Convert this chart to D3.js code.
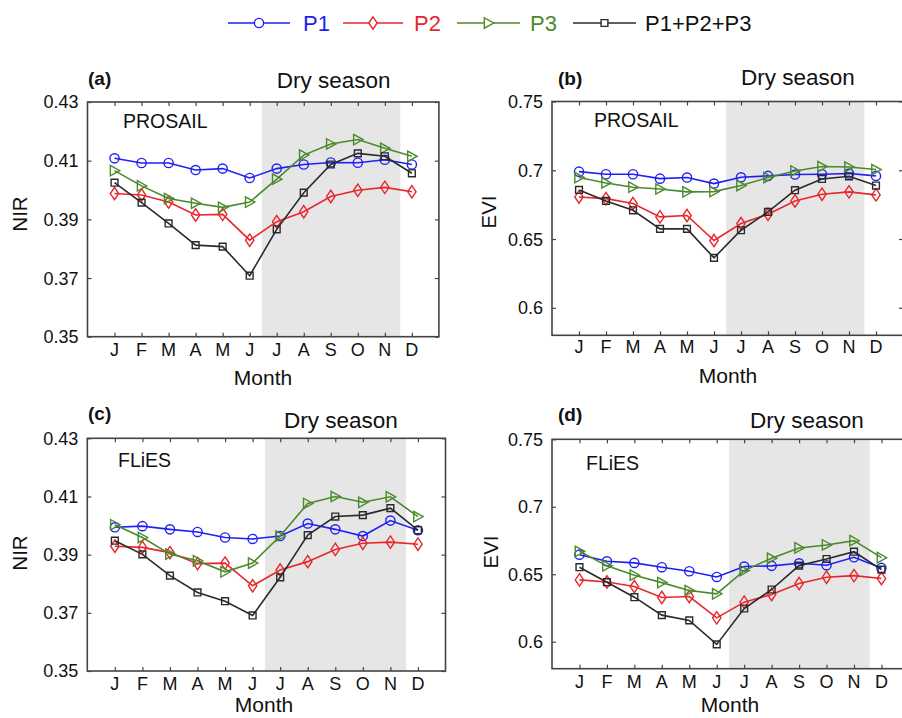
<!DOCTYPE html>
<html>
<head>
<meta charset="utf-8">
<script src="https://cdn.jsdelivr.net/npm/d3@7/dist/d3.min.js"></script>
<style>
  html, body { margin: 0; padding: 0; background: #fff; }
  svg { display: block; font-family: "Liberation Sans", Arial, Helvetica, sans-serif; }
</style>
</head>
<body>
<svg id="chart" width="902" height="718"></svg>
<script>
// ---------------- DATA ----------------
const months = ["J","F","M","A","M","J","J","A","S","O","N","D"];
const seriesNames = ["P1", "P2", "P3", "P1+P2+P3"];
const nirTicks = [0.35, 0.37, 0.39, 0.41, 0.43];
const eviTicks = [0.6, 0.65, 0.7, 0.75];

// (a) PROSAIL NIR
const prosailNIR_P1  = [0.4108,0.4092,0.4092,0.4068,0.4073,0.4041,0.4073,0.4087,0.4094,0.4093,0.4103,0.4087];
const prosailNIR_P2  = [0.3988,0.3983,0.3959,0.3915,0.3917,0.3829,0.3892,0.3926,0.3978,0.3999,0.4009,0.3994];
const prosailNIR_P3  = [0.4066,0.4014,0.3971,0.3955,0.3941,0.3959,0.4037,0.4119,0.4157,0.4172,0.4142,0.4115];
const prosailNIR_Sum = [0.4025,0.3957,0.3886,0.3812,0.3807,0.3708,0.3866,0.3991,0.4087,0.4125,0.4115,0.4057];

// (b) PROSAIL EVI
const prosailEVI_P1  = [0.6990,0.6971,0.6971,0.6939,0.6947,0.6903,0.6949,0.6959,0.6969,0.6971,0.6976,0.6959];
const prosailEVI_P2  = [0.6806,0.6794,0.6758,0.6661,0.6671,0.6489,0.6613,0.6680,0.6777,0.6826,0.6843,0.6821];
const prosailEVI_P3  = [0.6947,0.6908,0.6877,0.6864,0.6843,0.6845,0.6889,0.6947,0.6995,0.7027,0.7024,0.7005];
const prosailEVI_Sum = [0.6857,0.6777,0.6709,0.6574,0.6574,0.6363,0.6564,0.6697,0.6855,0.6937,0.6956,0.6889];

// (c) FLiES NIR
const fliesNIR_P1  = [0.3994,0.3998,0.3987,0.3978,0.3959,0.3954,0.3964,0.4007,0.3987,0.3964,0.4017,0.3984];
const fliesNIR_P2  = [0.3929,0.3925,0.3907,0.3869,0.3871,0.3793,0.3847,0.3876,0.3918,0.3939,0.3943,0.3936];
const fliesNIR_P3  = [0.4003,0.3959,0.3902,0.3879,0.3841,0.3871,0.3964,0.4076,0.4100,0.4080,0.4099,0.4031];
const fliesNIR_Sum = [0.3948,0.3901,0.3828,0.3770,0.3740,0.3691,0.3822,0.3967,0.4031,0.4036,0.4060,0.3984];

// (d) FLiES EVI
const fliesEVI_P1  = [0.6645,0.6596,0.6584,0.6552,0.6522,0.6480,0.6557,0.6562,0.6581,0.6567,0.6626,0.6547];
const fliesEVI_P2  = [0.6458,0.6443,0.6409,0.6328,0.6335,0.6177,0.6293,0.6350,0.6431,0.6478,0.6490,0.6468];
const fliesEVI_P3  = [0.6670,0.6562,0.6493,0.6438,0.6379,0.6355,0.6527,0.6618,0.6695,0.6717,0.6749,0.6623];
const fliesEVI_Sum = [0.6552,0.6441,0.6330,0.6197,0.6158,0.5980,0.6246,0.6387,0.6564,0.6613,0.6667,0.6534];

const drySeason = [6.45, 11.57];   // in month-index units (1 = Jan)

// ---------------- STYLE ----------------
const colors  = ["#1f1ff5", "#e8262b", "#4b8a2c", "#2a2a2a"];
const markers = ["circle", "diamond", "triangle", "square"];

const panels = [
  { tag: "(a)", src: "PROSAIL", ylab: "NIR", ticks: nirTicks, dom: [0.35, 0.43], fmt: d3.format(".2f"),
    series: [prosailNIR_P1, prosailNIR_P2, prosailNIR_P3, prosailNIR_Sum],
    box: [87.5, 102, 438.9, 336.7],
    tagPos: [88, 85], dryPos: [276.7, 87.5], srcPos: [123, 128], ylabPos: [27, 214], monthY: 356, xlabPos: [263, 385] },
  { tag: "(b)", src: "PROSAIL", ylab: "EVI", ticks: eviTicks, dom: [0.58, 0.75], fmt: d => (d === 0.6 || d === 0.7) ? d.toFixed(1) : d.toFixed(2),
    series: [prosailEVI_P1, prosailEVI_P2, prosailEVI_P3, prosailEVI_Sum],
    box: [552, 101.5, 903, 335.3],
    tagPos: [558, 85], dryPos: [741, 85], srcPos: [594, 126.7], ylabPos: [496, 212], monthY: 353, xlabPos: [728, 383] },
  { tag: "(c)", src: "FLiES", ylab: "NIR", ticks: nirTicks, dom: [0.35, 0.43], fmt: d3.format(".2f"),
    series: [fliesNIR_P1, fliesNIR_P2, fliesNIR_P3, fliesNIR_Sum],
    box: [87.3, 438.3, 445.5, 671],
    tagPos: [88, 420], dryPos: [284, 428], srcPos: [118, 467], ylabPos: [27, 553], monthY: 690, xlabPos: [264, 712] },
  { tag: "(d)", src: "FLiES", ylab: "EVI", ticks: eviTicks, dom: [0.58, 0.75], fmt: d => (d === 0.6 || d === 0.7) ? d.toFixed(1) : d.toFixed(2),
    series: [fliesEVI_P1, fliesEVI_P2, fliesEVI_P3, fliesEVI_Sum],
    box: [552, 439.3, 908.9, 668.7],
    tagPos: [558, 421], dryPos: [750, 428], srcPos: [586, 470], ylabPos: [498, 552], monthY: 688, xlabPos: [730, 712] }
];

const svg = d3.select("#chart");

function markerPath(type) {
  switch (type) {
    case "circle":   return d3.symbol().type(d3.symbolCircle).size(Math.PI * 4.6 * 4.6)();
    case "square":   return "M-3.4,-3.4H3.4V3.4H-3.4Z";
    case "diamond":  return "M0,-6.2L4.2,0L0,6.2L-4.2,0Z";
    case "triangle": return "M-4.2,-5.2L5.2,0L-4.2,5.2Z";
  }
}

panels.forEach(p => {
  const [x0, y0, x1, y1] = p.box;
  const x = d3.scaleLinear().domain([0, 13]).range([x0, x1]);
  const y = d3.scaleLinear().domain(p.dom).range([y1, y0]);
  const g = svg.append("g");

  // dry season shading
  g.append("rect")
    .attr("x", x(drySeason[0])).attr("y", y0)
    .attr("width", x(drySeason[1]) - x(drySeason[0])).attr("height", y1 - y0)
    .attr("fill", "#e6e6e6");

  // axes with inward ticks
  const axisColor = "#444";
  const bottom = g.append("g").attr("transform", `translate(0,${y1})`)
    .call(d3.axisBottom(x).tickValues(d3.range(1, 13)).tickSize(-4).tickFormat(""));
  const top = g.append("g").attr("transform", `translate(0,${y0})`)
    .call(d3.axisTop(x).tickValues(d3.range(1, 13)).tickSize(-4).tickFormat(""));
  const left = g.append("g").attr("transform", `translate(${x0},0)`)
    .call(d3.axisLeft(y).tickValues(p.ticks).tickSize(-4).tickFormat(""));
  const right = g.append("g").attr("transform", `translate(${x1},0)`)
    .call(d3.axisRight(y).tickValues(p.ticks).tickSize(-4).tickFormat(""));
  [bottom, top, left, right].forEach(a => {
    a.select(".domain").remove();
    a.selectAll("line").attr("stroke", axisColor).attr("stroke-width", 1.2);
  });
  g.append("rect").attr("x", x0).attr("y", y0).attr("width", x1 - x0).attr("height", y1 - y0)
    .attr("fill", "none").attr("stroke", axisColor).attr("stroke-width", 1.6);

  // y tick labels
  g.selectAll(".ytl").data(p.ticks).enter().append("text")
    .attr("x", x0 - 9).attr("y", d => y(d)).attr("dy", "0.36em")
    .attr("text-anchor", "end").attr("font-size", 18).attr("fill", "#111")
    .text(p.fmt);

  // month labels
  g.selectAll(".xtl").data(months).enter().append("text")
    .attr("x", (d, i) => x(i + 1)).attr("y", p.monthY)
    .attr("text-anchor", "middle").attr("font-size", 18).attr("fill", "#111")
    .text(d => d);

  // series
  const line = d3.line().x((d, i) => x(i + 1)).y(d => y(d));
  p.series.forEach((vals, si) => {
    const sg = g.append("g");
    sg.append("path").datum(vals).attr("d", line)
      .attr("fill", "none").attr("stroke", colors[si]).attr("stroke-width", 1.6);
    sg.selectAll("path.m").data(vals).enter().append("path").attr("class", "m")
      .attr("transform", (d, i) => `translate(${x(i + 1)},${y(d)})`)
      .attr("d", markerPath(markers[si]))
      .attr("fill", "none").attr("stroke", colors[si]).attr("stroke-width", 1.4);
  });

  // texts
  g.append("text").attr("x", p.tagPos[0]).attr("y", p.tagPos[1])
    .attr("font-size", 19).attr("font-weight", "bold").attr("fill", "#111").text(p.tag);
  g.append("text").attr("x", p.dryPos[0]).attr("y", p.dryPos[1])
    .attr("font-size", 22.5).attr("fill", "#111").text("Dry season");
  g.append("text").attr("x", p.srcPos[0]).attr("y", p.srcPos[1])
    .attr("font-size", 19.5).attr("fill", "#111").text(p.src);
  g.append("text").attr("transform", `translate(${p.ylabPos[0]},${p.ylabPos[1]}) rotate(-90)`)
    .attr("text-anchor", "middle").attr("font-size", 20.5).attr("fill", "#111").text(p.ylab);
  g.append("text").attr("x", p.xlabPos[0]).attr("y", p.xlabPos[1])
    .attr("text-anchor", "middle").attr("font-size", 21).attr("fill", "#111").text("Month");
});

// legend
const legendItems = [
  { x0: 228, x1: 290, tx: 303 },
  { x0: 343, x1: 403, tx: 414 },
  { x0: 457, x1: 520, tx: 530 },
  { x0: 573, x1: 636, tx: 645 }
];
const legendTextColors = ["#1f1ff5", "#e8262b", "#4b8a2c", "#111"];
const lg = svg.append("g");
legendItems.forEach((it, i) => {
  const ly = 23;
  lg.append("line").attr("x1", it.x0).attr("x2", it.x1).attr("y1", ly).attr("y2", ly)
    .attr("stroke", colors[i]).attr("stroke-width", 1.6);
  lg.append("path").attr("transform", `translate(${(it.x0 + it.x1) / 2},${ly})`)
    .attr("d", markerPath(markers[i])).attr("fill", "#fff")
    .attr("stroke", colors[i]).attr("stroke-width", 1.4);
  lg.append("text").attr("x", it.tx).attr("y", 31)
    .attr("font-size", 22).attr("fill", legendTextColors[i]).text(seriesNames[i]);
});
</script>
</body>
</html>
